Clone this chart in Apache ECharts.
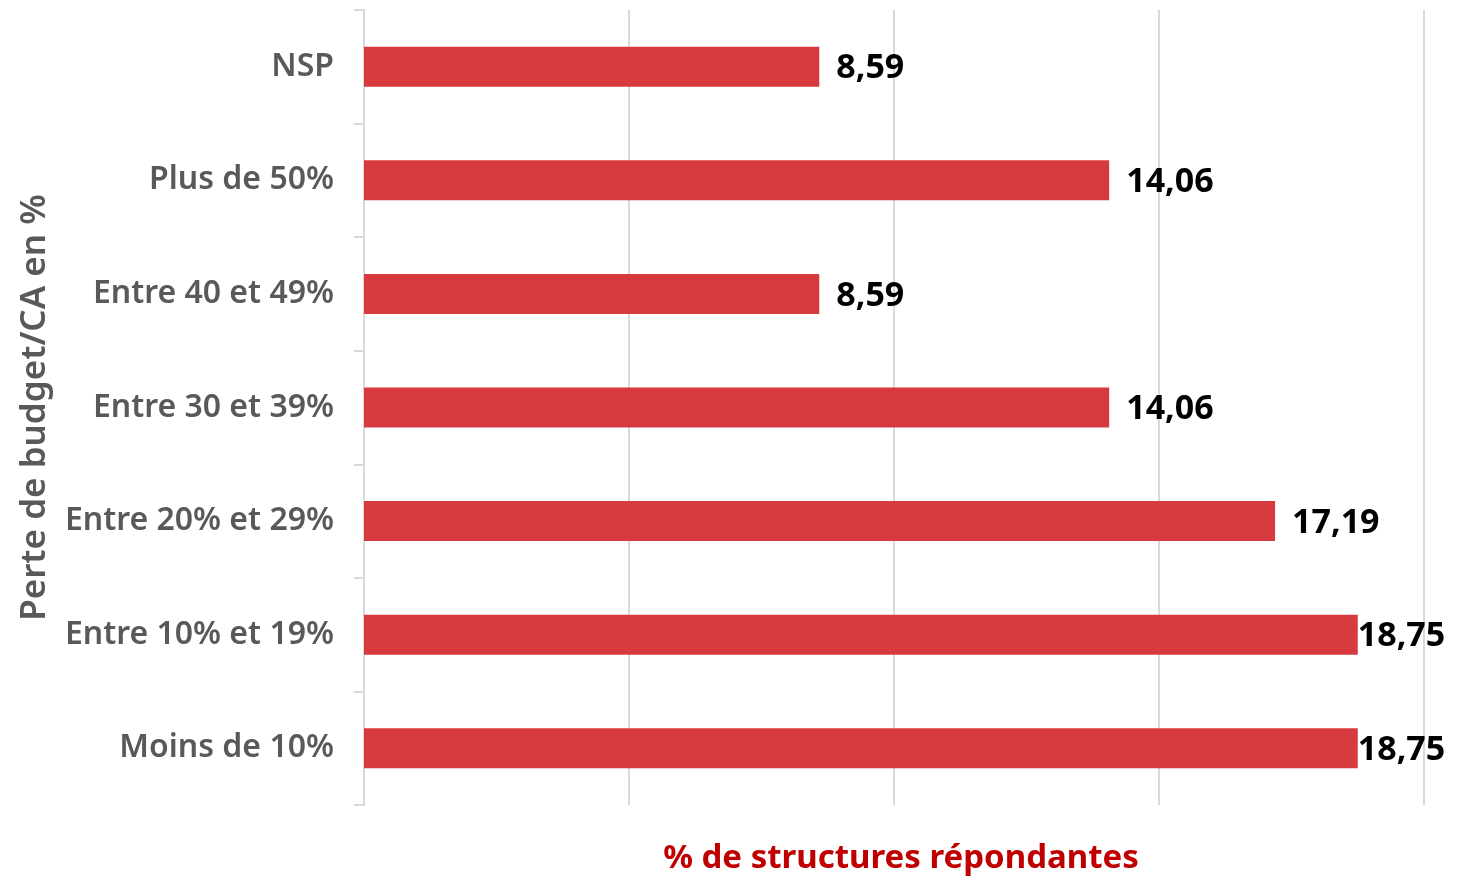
<!DOCTYPE html>
<html><head><meta charset="utf-8">
<script src="https://cdn.jsdelivr.net/npm/echarts@6/dist/echarts.min.js"></script>
<style>html,body{margin:0;padding:0;background:#fff}#c{width:1473px;height:880px}</style>
</head><body><div id="c"></div>
<script>
const categories = ['Moins de 10%', 'Entre 10% et 19%', 'Entre 20% et 29%', 'Entre 30 et 39%', 'Entre 40 et 49%', 'Plus de 50%', 'NSP'];
const values = [18.75, 18.75, 17.19, 14.06, 8.59, 14.06, 8.59];
const xTicks = [0, 5, 10, 15, 20];
const yTitle = 'Perte de budget/CA en %';
const xTitle = '% de structures répondantes';

const chart = echarts.init(document.getElementById('c'));
const font = '"Noto Sans", sans-serif';
chart.setOption({
  animation: false,
  grid: {left: 364, right: 49, top: 10, bottom: 75, containLabel: false},
  xAxis: {
    type: 'value', min: xTicks[0], max: xTicks[xTicks.length - 1], interval: 5,
    axisLabel: {show: false}, axisLine: {show: false}, axisTick: {show: false},
    splitLine: {show: true, lineStyle: {color: '#d9d9d9', width: 2}},
    name: xTitle, nameLocation: 'middle', nameGap: 37,
    nameTextStyle: {color: '#c00000', fontFamily: font, fontWeight: 'bold', fontSize: 33, padding: [0, 0, 0, 14]}
  },
  yAxis: {
    type: 'category', data: categories,
    axisLine: {show: true, lineStyle: {color: '#d9d9d9', width: 2}},
    axisTick: {show: true, length: 10, lineStyle: {color: '#d9d9d9', width: 2}},
    axisLabel: {color: '#595959', fontFamily: font, fontSize: 32, fontWeight: 600, margin: 30, padding: [4, 0, 0, 0]},
    name: yTitle, nameLocation: 'middle', nameGap: 311,
    nameTextStyle: {color: '#595959', fontFamily: font, fontSize: 35, fontWeight: 600}
  },
  series: [{
    type: 'bar', barWidth: 40,
    data: values.map(v => ({value: v, label: {distance: v >= 18 ? 0 : 17}})),
    itemStyle: {color: '#d63a3f'},
    label: {show: true, position: 'right', color: '#000', fontFamily: font, fontWeight: 'bold', fontSize: 34, offset: [0, 2],
      formatter: p => p.value.toFixed(2).replace('.', ',')}
  }]
});
</script></body></html>
